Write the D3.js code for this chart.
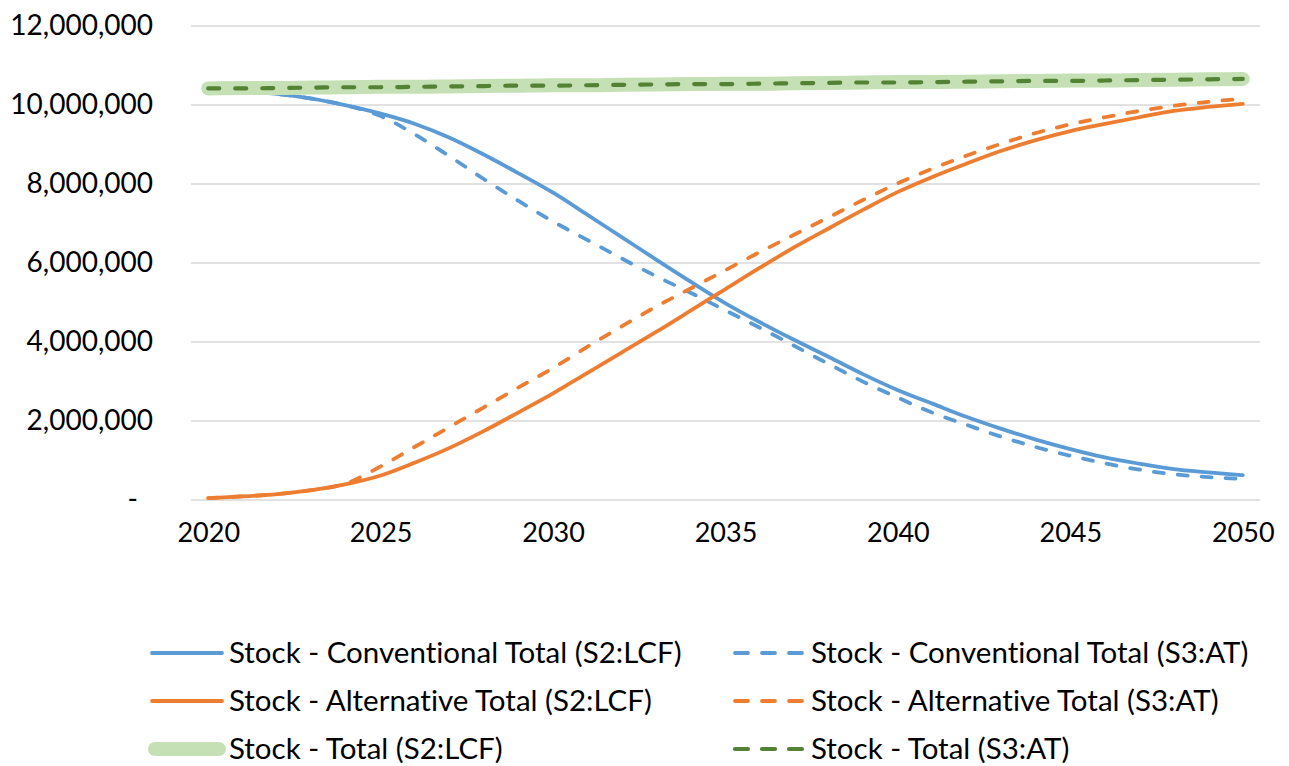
<!DOCTYPE html>
<html>
<head>
<meta charset="utf-8">
<script src="https://cdn.jsdelivr.net/npm/d3@7"></script>
<style>
  body { margin: 0; background: #fff; }
  .container { width: 1289px; height: 766px; }
  text { font-family: Lato, "Noto Sans", sans-serif; fill: #000; font-variant-ligatures: none; }
</style>
</head>
<body>
<div class="container"></div>
<script>
// years on the category axis
var years = d3.range(2020, 2051);

// values, in millions of vehicles
var convS2 = [10.38, 10.35, 10.28, 10.16, 9.99, 9.78, 9.52, 9.17, 8.74, 8.27,
  7.78, 7.22, 6.65, 6.08, 5.52, 4.98, 4.50, 4.05, 3.62, 3.18,
  2.78, 2.44, 2.10, 1.80, 1.53, 1.29, 1.08, 0.92, 0.78, 0.70, 0.63];
var convS3 = [10.38, 10.35, 10.28, 10.16, 9.99, 9.72, 9.25, 8.70, 8.12, 7.57,
  7.05, 6.58, 6.11, 5.66, 5.24, 4.80, 4.36, 3.90, 3.44, 2.99,
  2.59, 2.21, 1.90, 1.60, 1.34, 1.12, 0.93, 0.77, 0.65, 0.58, 0.53];
var altS2 = [0.05, 0.09, 0.15, 0.25, 0.40, 0.62, 0.95, 1.32, 1.75, 2.22,
  2.70, 3.22, 3.74, 4.26, 4.80, 5.34, 5.88, 6.40, 6.88, 7.35,
  7.80, 8.18, 8.52, 8.84, 9.11, 9.34, 9.52, 9.69, 9.85, 9.95, 10.03];
var altS3 = [0.05, 0.09, 0.15, 0.25, 0.42, 0.85, 1.35, 1.85, 2.35, 2.85,
  3.34, 3.88, 4.40, 4.90, 5.36, 5.82, 6.28, 6.72, 7.16, 7.60,
  8.02, 8.39, 8.72, 9.02, 9.29, 9.51, 9.69, 9.85, 9.98, 10.08, 10.16];
var totalS2 = [10.42, 10.43, 10.43, 10.44, 10.45, 10.46, 10.46, 10.47, 10.48, 10.49,
  10.50, 10.50, 10.51, 10.52, 10.53, 10.54, 10.54, 10.55, 10.56, 10.57,
  10.58, 10.58, 10.59, 10.60, 10.61, 10.62, 10.62, 10.63, 10.64, 10.65, 10.66];
var totalS3 = [10.42, 10.42, 10.43, 10.44, 10.45, 10.45, 10.46, 10.47, 10.48, 10.49,
  10.49, 10.50, 10.51, 10.52, 10.53, 10.53, 10.54, 10.55, 10.56, 10.57,
  10.57, 10.58, 10.59, 10.60, 10.61, 10.61, 10.62, 10.63, 10.64, 10.65, 10.66];
var yTicks = [0, 2e6, 4e6, 6e6, 8e6, 10e6, 12e6];
var xTicks = [2020, 2025, 2030, 2035, 2040, 2045, 2050];

var seriesNames = [
  'Stock - Conventional Total (S2:LCF)', 'Stock - Conventional Total (S3:AT)',
  'Stock - Alternative Total (S2:LCF)', 'Stock - Alternative Total (S3:AT)',
  'Stock - Total (S2:LCF)', 'Stock - Total (S3:AT)'
];

// series in excel drawing order, with their look
var series = [
  { name: seriesNames[0], values: convS2, color: '#5b9bd5', width: 3.8, dash: null },
  { name: seriesNames[1], values: convS3, color: '#5b9bd5', width: 3.8, dash: '10,14' },
  { name: seriesNames[2], values: altS2, color: '#ed7d31', width: 3.8, dash: null },
  { name: seriesNames[3], values: altS3, color: '#ed7d31', width: 3.8, dash: '10,14' },
  { name: seriesNames[4], values: totalS2, color: '#c5e0b4', width: 14, dash: null },
  { name: seriesNames[5], values: totalS3, color: '#548235', width: 4.2, dash: '11,16' }
];

var svg = d3.select('.container')
  .append('svg')
  .attr('width', 1289)
  .attr('height', 766);

var x = d3.scalePoint()
  .domain(years)
  .range([191, 1260])
  .padding(0.5);
var y = d3.scaleLinear()
  .domain([0, 12e6])
  .range([500, 26]);

// horizontal gridlines
svg.append('g')
  .selectAll('line')
  .data(yTicks)
  .enter()
  .append('line')
  .attr('x1', 191)
  .attr('x2', 1260)
  .attr('y1', function(d) { return y(d); })
  .attr('y2', function(d) { return y(d); })
  .attr('stroke', '#d9d9d9')
  .attr('stroke-width', 1.5);

// y axis labels
var yAxis = svg.append('g')
  .attr('transform', 'translate(153,0)')
  .call(d3.axisLeft(y)
    .tickValues(yTicks)
    .tickSize(0)
    .tickPadding(0)
    .tickFormat(function(d) { return d === 0 ? '-' : d3.format(',')(d); }));
yAxis.select('.domain').remove();
yAxis.selectAll('text')
  .attr('font-size', 28)
  .attr('font-family', 'Lato')
  .attr('fill', '#000')
  .attr('dx', function(d) { return d === 0 ? -15 : 0; });

// x axis labels
var xAxis = svg.append('g')
  .attr('transform', 'translate(0,530)')
  .call(d3.axisBottom(x)
    .tickValues(xTicks)
    .tickSize(0)
    .tickPadding(0));
xAxis.select('.domain').remove();
xAxis.selectAll('text')
  .attr('font-size', 27)
  .attr('font-family', 'Lato')
  .attr('fill', '#000')
  .attr('dy', '0.45em');

var line = d3.line()
  .x(function(d, i) { return x(years[i]); })
  .y(function(d) { return y(d * 1e6); })
  .curve(d3.curveMonotoneX);

svg.append('g')
  .selectAll('path')
  .data(series)
  .enter()
  .append('path')
  .attr('d', function(d) { return line(d.values); })
  .attr('fill', 'none')
  .attr('stroke', function(d) { return d.color; })
  .attr('stroke-width', function(d) { return d.width; })
  .attr('stroke-dasharray', function(d) { return d.dash; })
  .attr('stroke-linecap', 'round')
  .attr('stroke-linejoin', 'round');

// legend, two columns, three rows
var legend = svg.append('g')
  .selectAll('g')
  .data(series)
  .enter()
  .append('g')
  .attr('transform', function(d, i) {
    return 'translate(' + (i % 2 === 0 ? 152 : 735) + ',' + (653 + Math.floor(i / 2) * 48) + ')';
  });
legend.append('line')
  .attr('x1', function(d) { return d.width > 10 ? 3 : 0; })
  .attr('x2', function(d) { return d.width > 10 ? 67 : 70; })
  .attr('stroke', function(d) { return d.color; })
  .attr('stroke-width', function(d) { return d.width; })
  .attr('stroke-dasharray', function(d) { return d.dash ? '13,14' : null; })
  .attr('stroke-linecap', 'round');
legend.append('text')
  .attr('x', function(d, i) { return i % 2 === 0 ? 77 : 76; })
  .attr('dy', '0.35em')
  .attr('font-size', 29.5)
  .text(function(d) { return d.name; });
</script>
</body>
</html>
